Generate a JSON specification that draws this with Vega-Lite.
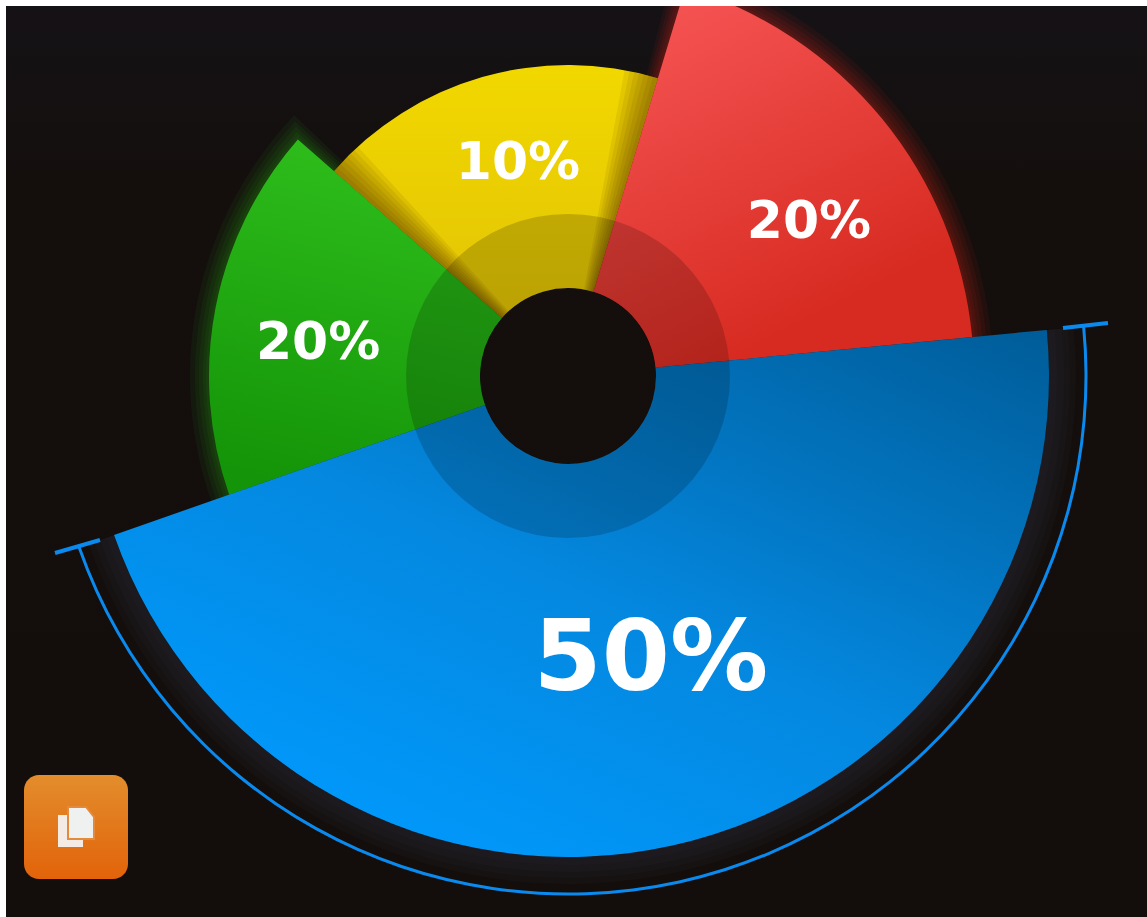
{
"$schema":"https://vega.github.io/schema/vega-lite/v6.json",
"width":1147,"height":917,"padding":0,"autosize":{"type":"none"},
"background":"#ffffff",
"config":{"view":{"stroke":null},"axis":{"grid":false}},
"datasets":{
"segments":[
{"name":"blue","label":"50%","start":84.5,"end":250.7,"inner":88,"outer":481,"labelAngle":163.8,"labelRadius":297},
{"name":"green","label":"20%","start":250.7,"end":311.2,"inner":88,"outer":359,"labelAngle":277.5,"labelRadius":252},
{"name":"yellow","label":"10%","start":311.2,"end":376.8,"inner":88,"outer":311,"labelAngle":346.8,"labelRadius":219},
{"name":"red","label":"20%","start":16.8,"end":84.5,"inner":88,"outer":406,"labelAngle":57.4,"labelRadius":286}],
"glow":[
{"name":"red","start":16.4,"end":85,"inner":88,"outer":409},{"name":"red","start":16,"end":85,"inner":88,"outer":412},{"name":"red","start":15.6,"end":85,"inner":88,"outer":416},{"name":"red","start":15.1,"end":85,"inner":88,"outer":420},{"name":"red","start":14.6,"end":85,"inner":88,"outer":425},
{"name":"green","start":250,"end":311.6,"inner":88,"outer":362},{"name":"green","start":250,"end":312,"inner":88,"outer":365},{"name":"green","start":250,"end":312.5,"inner":88,"outer":369},{"name":"green","start":250,"end":313,"inner":88,"outer":373},{"name":"green","start":250,"end":313.6,"inner":88,"outer":378}],
"shade":[
{"start":311.2,"end":312.1,"inner":88,"outer":311},{"start":311.2,"end":313,"inner":88,"outer":311},{"start":311.2,"end":313.9,"inner":88,"outer":311},{"start":311.2,"end":314.8,"inner":88,"outer":311},{"start":311.2,"end":315.7,"inner":88,"outer":311},{"start":311.2,"end":316.6,"inner":88,"outer":311},{"start":311.2,"end":317.5,"inner":88,"outer":311},
{"start":375.9,"end":376.8,"inner":88,"outer":311},{"start":375,"end":376.8,"inner":88,"outer":311},{"start":374.1,"end":376.8,"inner":88,"outer":311},{"start":373.2,"end":376.8,"inner":88,"outer":311},{"start":372.3,"end":376.8,"inner":88,"outer":311},{"start":371.4,"end":376.8,"inner":88,"outer":311},{"start":370.5,"end":376.8,"inner":88,"outer":311}],
"halo":[
{"start":84.5,"end":250.7,"inner":481,"outer":489},{"start":84.5,"end":250.7,"inner":481,"outer":496},{"start":84.5,"end":250.7,"inner":481,"outer":502},{"start":84.5,"end":250.7,"inner":481,"outer":508}],
"bracket":[{"start":84.5,"end":250.7,"inner":516.5,"outer":519.5}],
"hub":[{"start":0,"end":360,"inner":88,"outer":162}],
"ticks":[{"px":1063,"py":328,"qx":1108,"qy":323},{"px":55,"py":553,"qx":100,"qy":540}],
"panel":[{"x0":6,"x1":1147,"y0":6,"y1":917}],
"margins":[{"x0":0,"x1":1147,"y0":0,"y1":6},{"x0":0,"x1":6,"y0":0,"y1":917}],
"button":[{"x0":24,"x1":128,"y0":775,"y1":879}],
"icon":[{"px":76,"py":827}]
},
"layer":[
{"data":{"name":"panel"},"mark":{"type":"rect","fill":{"gradient":"linear","x1":0,"y1":0,"x2":0,"y2":1,"stops":[{"offset":0,"color":"#151216"},{"offset":0.2,"color":"#140f0d"},{"offset":1,"color":"#130e0b"}]}},
 "encoding":{"x":{"field":"x0","type":"quantitative","scale":{"domain":[0,1147],"range":[0,1147]},"axis":null},"x2":{"field":"x1"},"y":{"field":"y0","type":"quantitative","scale":{"domain":[0,917],"range":[0,917]},"axis":null},"y2":{"field":"y1"}}},
{"data":{"name":"glow"},"mark":{"type":"arc","opacity":0.08},
 "encoding":{"x":{"datum":568,"type":"quantitative","scale":{"domain":[0,1147],"range":[0,1147]},"axis":null},"y":{"datum":376,"type":"quantitative","scale":{"domain":[0,917],"range":[0,917]},"axis":null},"theta":{"field":"start","type":"quantitative","scale":{"domain":[0,360],"range":[0,6.283185]}},"theta2":{"field":"end"},"radius":{"field":"outer","type":"quantitative","scale":{"type":"linear","domain":[0,1000],"range":[0,1000]}},"radius2":{"field":"inner"},
 "color":{"field":"name","type":"nominal","legend":null,"scale":{"domain":["red","green"],"range":["#d8281e","#2aa81c"]}}}},
{"data":{"name":"segments"},"transform":[{"filter":"datum.name==='yellow'"}],"mark":{"type":"arc","fill":{"gradient":"linear","x1":0,"y1":0,"x2":0,"y2":1,"stops":[{"offset":0,"color":"#f2d800"},{"offset":1,"color":"#e2c405"}]}},
 "encoding":{"x":{"datum":568,"type":"quantitative","scale":{"domain":[0,1147],"range":[0,1147]},"axis":null},"y":{"datum":376,"type":"quantitative","scale":{"domain":[0,917],"range":[0,917]},"axis":null},"theta":{"field":"start","type":"quantitative","scale":{"domain":[0,360],"range":[0,6.283185]}},"theta2":{"field":"end"},"radius":{"field":"outer","type":"quantitative","scale":{"type":"linear","domain":[0,1000],"range":[0,1000]}},"radius2":{"field":"inner"}}},
{"data":{"name":"shade"},"mark":{"type":"arc","fill":"#3a1a00","opacity":0.08},
 "encoding":{"x":{"datum":568,"type":"quantitative","scale":{"domain":[0,1147],"range":[0,1147]},"axis":null},"y":{"datum":376,"type":"quantitative","scale":{"domain":[0,917],"range":[0,917]},"axis":null},"theta":{"field":"start","type":"quantitative","scale":{"domain":[0,360],"range":[0,6.283185]}},"theta2":{"field":"end"},"radius":{"field":"outer","type":"quantitative","scale":{"type":"linear","domain":[0,1000],"range":[0,1000]}},"radius2":{"field":"inner"}}},
{"data":{"name":"segments"},"transform":[{"filter":"datum.name==='green'"}],"mark":{"type":"arc","fill":{"gradient":"linear","x1":0.6,"y1":0,"x2":0.4,"y2":1,"stops":[{"offset":0,"color":"#2fbf1c"},{"offset":1,"color":"#149408"}]}},
 "encoding":{"x":{"datum":568,"type":"quantitative","scale":{"domain":[0,1147],"range":[0,1147]},"axis":null},"y":{"datum":376,"type":"quantitative","scale":{"domain":[0,917],"range":[0,917]},"axis":null},"theta":{"field":"start","type":"quantitative","scale":{"domain":[0,360],"range":[0,6.283185]}},"theta2":{"field":"end"},"radius":{"field":"outer","type":"quantitative","scale":{"type":"linear","domain":[0,1000],"range":[0,1000]}},"radius2":{"field":"inner"}}},
{"data":{"name":"segments"},"transform":[{"filter":"datum.name==='red'"}],"mark":{"type":"arc","fill":{"gradient":"linear","x1":0.2,"y1":0,"x2":0.7,"y2":1,"stops":[{"offset":0,"color":"#f65555"},{"offset":0.85,"color":"#d72b21"},{"offset":1,"color":"#d72b21"}]}},
 "encoding":{"x":{"datum":568,"type":"quantitative","scale":{"domain":[0,1147],"range":[0,1147]},"axis":null},"y":{"datum":376,"type":"quantitative","scale":{"domain":[0,917],"range":[0,917]},"axis":null},"theta":{"field":"start","type":"quantitative","scale":{"domain":[0,360],"range":[0,6.283185]}},"theta2":{"field":"end"},"radius":{"field":"outer","type":"quantitative","scale":{"type":"linear","domain":[0,1000],"range":[0,1000]}},"radius2":{"field":"inner"}}},
{"data":{"name":"halo"},"mark":{"type":"arc","fill":"#2a2e36","opacity":0.14},
 "encoding":{"x":{"datum":568,"type":"quantitative","scale":{"domain":[0,1147],"range":[0,1147]},"axis":null},"y":{"datum":376,"type":"quantitative","scale":{"domain":[0,917],"range":[0,917]},"axis":null},"theta":{"field":"start","type":"quantitative","scale":{"domain":[0,360],"range":[0,6.283185]}},"theta2":{"field":"end"},"radius":{"field":"outer","type":"quantitative","scale":{"type":"linear","domain":[0,1000],"range":[0,1000]}},"radius2":{"field":"inner"}}},
{"data":{"name":"segments"},"transform":[{"filter":"datum.name==='blue'"}],"mark":{"type":"arc","fill":{"gradient":"linear","x1":0.2,"y1":1,"x2":1,"y2":0,"stops":[{"offset":0,"color":"#009bff"},{"offset":0.45,"color":"#0488e0"},{"offset":1,"color":"#005c98"}]}},
 "encoding":{"x":{"datum":568,"type":"quantitative","scale":{"domain":[0,1147],"range":[0,1147]},"axis":null},"y":{"datum":376,"type":"quantitative","scale":{"domain":[0,917],"range":[0,917]},"axis":null},"theta":{"field":"start","type":"quantitative","scale":{"domain":[0,360],"range":[0,6.283185]}},"theta2":{"field":"end"},"radius":{"field":"outer","type":"quantitative","scale":{"type":"linear","domain":[0,1000],"range":[0,1000]}},"radius2":{"field":"inner"}}},
{"data":{"name":"hub"},"mark":{"type":"arc","fill":"#000000","opacity":0.17},
 "encoding":{"x":{"datum":568,"type":"quantitative","scale":{"domain":[0,1147],"range":[0,1147]},"axis":null},"y":{"datum":376,"type":"quantitative","scale":{"domain":[0,917],"range":[0,917]},"axis":null},"theta":{"field":"start","type":"quantitative","scale":{"domain":[0,360],"range":[0,6.283185]}},"theta2":{"field":"end"},"radius":{"field":"outer","type":"quantitative","scale":{"type":"linear","domain":[0,1000],"range":[0,1000]}},"radius2":{"field":"inner"}}},
{"data":{"name":"bracket"},"mark":{"type":"arc","fill":"#0a8aee"},
 "encoding":{"x":{"datum":568,"type":"quantitative","scale":{"domain":[0,1147],"range":[0,1147]},"axis":null},"y":{"datum":376,"type":"quantitative","scale":{"domain":[0,917],"range":[0,917]},"axis":null},"theta":{"field":"start","type":"quantitative","scale":{"domain":[0,360],"range":[0,6.283185]}},"theta2":{"field":"end"},"radius":{"field":"outer","type":"quantitative","scale":{"type":"linear","domain":[0,1000],"range":[0,1000]}},"radius2":{"field":"inner"}}},
{"data":{"name":"ticks"},"mark":{"type":"rule","color":"#0a8aee","strokeWidth":4},
 "encoding":{"x":{"field":"px","type":"quantitative","scale":{"domain":[0,1147],"range":[0,1147]},"axis":null},"x2":{"field":"qx"},"y":{"field":"py","type":"quantitative","scale":{"domain":[0,917],"range":[0,917]},"axis":null},"y2":{"field":"qy"}}},
{"data":{"name":"segments"},"transform":[{"filter":"datum.name==='blue'"}],"mark":{"type":"text","font":"DejaVu Sans","fontWeight":"bold","fontSize":98,"fill":"#ffffff","align":"center","baseline":"middle"},
 "encoding":{"x":{"datum":568,"type":"quantitative","scale":{"domain":[0,1147],"range":[0,1147]},"axis":null},"y":{"datum":376,"type":"quantitative","scale":{"domain":[0,917],"range":[0,917]},"axis":null},"text":{"field":"label"},"theta":{"field":"labelAngle","type":"quantitative","scale":{"domain":[0,360],"range":[0,6.283185]}},"radius":{"field":"labelRadius","type":"quantitative","scale":{"type":"linear","domain":[0,1000],"range":[0,1000]}}}},
{"data":{"name":"segments"},"transform":[{"filter":"datum.name!=='blue'"}],"mark":{"type":"text","font":"DejaVu Sans","fontWeight":"bold","fontSize":52,"fill":"#ffffff","align":"center","baseline":"middle"},
 "encoding":{"x":{"datum":568,"type":"quantitative","scale":{"domain":[0,1147],"range":[0,1147]},"axis":null},"y":{"datum":376,"type":"quantitative","scale":{"domain":[0,917],"range":[0,917]},"axis":null},"text":{"field":"label"},"theta":{"field":"labelAngle","type":"quantitative","scale":{"domain":[0,360],"range":[0,6.283185]}},"radius":{"field":"labelRadius","type":"quantitative","scale":{"type":"linear","domain":[0,1000],"range":[0,1000]}}}},
{"data":{"name":"margins"},"mark":{"type":"rect","fill":"#ffffff"},
 "encoding":{"x":{"field":"x0","type":"quantitative","scale":{"domain":[0,1147],"range":[0,1147]},"axis":null},"x2":{"field":"x1"},"y":{"field":"y0","type":"quantitative","scale":{"domain":[0,917],"range":[0,917]},"axis":null},"y2":{"field":"y1"}}},
{"data":{"name":"button"},"mark":{"type":"rect","cornerRadius":15,"fill":{"gradient":"linear","x1":0,"y1":0,"x2":0,"y2":1,"stops":[{"offset":0,"color":"#e38d2c"},{"offset":1,"color":"#e2630a"}]}},
 "encoding":{"x":{"field":"x0","type":"quantitative","scale":{"domain":[0,1147],"range":[0,1147]},"axis":null},"x2":{"field":"x1"},"y":{"field":"y0","type":"quantitative","scale":{"domain":[0,917],"range":[0,917]},"axis":null},"y2":{"field":"y1"}}},
{"data":{"name":"icon"},"mark":{"type":"point","filled":true,"fill":"#f4ece4","stroke":null,"opacity":1,"size":10000,"shape":"M-.36 -.24 L.14 -.24 L.14 .4 L-.36 .4 Z"},
 "encoding":{"x":{"field":"px","type":"quantitative","scale":{"domain":[0,1147],"range":[0,1147]},"axis":null},"y":{"field":"py","type":"quantitative","scale":{"domain":[0,917],"range":[0,917]},"axis":null}}},
{"data":{"name":"icon"},"mark":{"type":"point","filled":true,"fill":"#eef1f0","stroke":"#e58a3a","strokeWidth":2,"opacity":1,"size":10000,"shape":"M-.16 -.4 L.2 -.4 L.36 -.2 L.36 .24 L-.16 .24 Z"},
 "encoding":{"x":{"field":"px","type":"quantitative","scale":{"domain":[0,1147],"range":[0,1147]},"axis":null},"y":{"field":"py","type":"quantitative","scale":{"domain":[0,917],"range":[0,917]},"axis":null}}}
]
}
